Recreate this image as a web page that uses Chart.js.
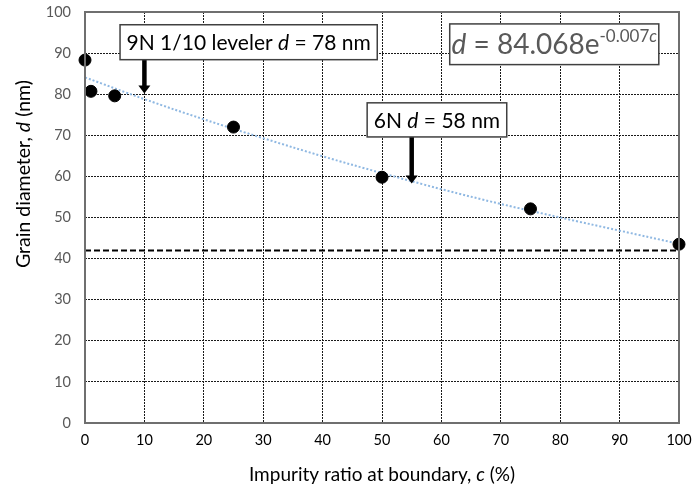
<!DOCTYPE html>
<html>
<head>
<meta charset="utf-8">
<script src="https://cdn.jsdelivr.net/npm/chart.js@4"></script>
<style>
  html, body { margin: 0; padding: 0; background: #fff; }
  #wrap { width: 695px; height: 495px; }
</style>
</head>
<body>
<div id="wrap"><canvas id="grainChart" width="695" height="495"></canvas></div>
<script>
// measured points: impurity ratio c (%) vs grain diameter d (nm)
const impurity = [0, 1, 5, 25, 50, 75, 100];
const diameter = [88.3, 80.7, 79.6, 72.0, 59.8, 52.1, 43.5];

// exponential trendline, every 10 %
const trendC = [0, 10, 20, 30, 40, 50, 60, 70, 80, 90, 100];
const trendD = [84.1, 78.8, 73.9, 69.3, 64.9, 60.8, 56.9, 53.3, 50.0, 46.8, 43.6];

// horizontal reference line
const refC = [0, 100];
const refD = [42, 42];

const xTicks = [0, 10, 20, 30, 40, 50, 60, 70, 80, 90, 100];
const yTicks = [0, 10, 20, 30, 40, 50, 60, 70, 80, 90, 100];

const FONT = 'Lato, "Open Sans", sans-serif';

// annotation boxes in data units, and the arrows under them
const boxes = [
  { x0: 5.9, x1: 49.2, y0: 88.4, y1: 96.9, size: 21, color: '#000',
    parts: [{ t: '9N 1/10 leveler ' }, { t: 'd', i: true }, { t: ' = 78 nm' }] },
  { x0: 47.5, x1: 71.0, y0: 69.6, y1: 77.9, size: 21, color: '#000',
    parts: [{ t: '6N ' }, { t: 'd', i: true }, { t: ' = 58 nm' }] },
  { x0: 61.4, x1: 96.6, y0: 87.2, y1: 97.1, size: 28, color: '#595959',
    parts: [{ t: 'd', i: true }, { t: ' = 84.068e' }, { t: '-0.007', sup: true }, { t: 'c', i: true, sup: true }] }
];
const arrows = [
  { x: 10, from: 88.4, to: 80.2 },
  { x: 55, from: 69.6, to: 58.3 }
];

function fontFor(p, size) {
  const s = p.sup ? Math.round(size * 0.62) : size;
  return (p.i ? 'italic ' : '') + s + 'px ' + FONT;
}

function drawParts(ctx, parts, cx, cy, size, color) {
  let total = 0;
  parts.forEach(p => { ctx.font = fontFor(p, size); total += ctx.measureText(p.t).width; });
  let x = cx - total / 2;
  ctx.fillStyle = color;
  ctx.textBaseline = 'middle';
  ctx.textAlign = 'left';
  parts.forEach(p => {
    ctx.font = fontFor(p, size);
    ctx.fillText(p.t, x, p.sup ? cy - size * 0.32 : cy);
    x += ctx.measureText(p.t).width;
  });
}

const decorations = {
  id: 'decorations',
  afterDatasetsDraw(chart) {
    const { ctx, chartArea: a, scales: { x, y } } = chart;
    ctx.save();
    // plot frame
    ctx.strokeStyle = '#6f6f6f';
    ctx.lineWidth = 2;
    ctx.strokeRect(a.left, a.top, a.right - a.left, a.bottom - a.top);

    // arrows
    arrows.forEach(ar => {
      const px = x.getPixelForValue(ar.x);
      const y0 = y.getPixelForValue(ar.from);
      const y1 = y.getPixelForValue(ar.to);
      ctx.strokeStyle = '#000';
      ctx.lineWidth = 4.5;
      ctx.beginPath();
      ctx.moveTo(px, y0);
      ctx.lineTo(px, y1 - 7);
      ctx.stroke();
      ctx.fillStyle = '#000';
      ctx.beginPath();
      ctx.moveTo(px - 6, y1 - 8);
      ctx.lineTo(px + 6, y1 - 8);
      ctx.lineTo(px, y1);
      ctx.closePath();
      ctx.fill();
    });

    // text boxes
    boxes.forEach(b => {
      const l = x.getPixelForValue(b.x0), r = x.getPixelForValue(b.x1);
      const t = y.getPixelForValue(b.y1), btm = y.getPixelForValue(b.y0);
      ctx.fillStyle = '#fff';
      ctx.fillRect(l, t, r - l, btm - t);
      ctx.strokeStyle = '#404040';
      ctx.lineWidth = 1.5;
      ctx.strokeRect(l, t, r - l, btm - t);
      drawParts(ctx, b.parts, (l + r) / 2, (t + btm) / 2 + 1, b.size, b.color);
    });

    // axis titles with italic symbols
    const midX = (a.left + a.right) / 2;
    drawParts(ctx, [{ t: 'Impurity ratio at boundary, ' }, { t: 'c', i: true }, { t: ' (%)' }],
      midX, 475, 19, '#000');
    ctx.translate(24, 174);
    ctx.rotate(-Math.PI / 2);
    drawParts(ctx, [{ t: 'Grain diameter, ' }, { t: 'd', i: true }, { t: ' (nm)' }],
      0, 0, 19.5, '#000');
    ctx.restore();
  }
};

const ctx = document.getElementById('grainChart').getContext('2d');

new Chart(ctx, {
  type: 'scatter',
  data: {
    datasets: [
      {
        label: 'reference',
        data: refC.map((c, i) => ({ x: c, y: refD[i] })),
        showLine: true,
        borderColor: '#000',
        borderWidth: 2,
        borderDash: [6, 3],
        pointRadius: 0
      },
      {
        label: 'measured',
        data: impurity.map((c, i) => ({ x: c, y: diameter[i] })),
        backgroundColor: '#000',
        borderColor: '#000',
        pointRadius: 6,
        pointHoverRadius: 6,
        clip: false
      },
      {
        label: 'trend',
        data: trendC.map((c, i) => ({ x: c, y: trendD[i] })),
        showLine: true,
        borderColor: '#8fb8e2',
        borderWidth: 2,
        borderDash: [2, 2],
        pointRadius: 0,
        tension: 0.4
      }
    ]
  },
  options: {
    responsive: false,
    animation: false,
    layout: { padding: { top: 12, right: 16, left: 0, bottom: 0 } },
    plugins: {
      legend: { display: false },
      tooltip: { enabled: false }
    },
    scales: {
      x: {
        type: 'linear',
        min: 0,
        max: 100,
        afterBuildTicks: axis => { axis.ticks = xTicks.map(v => ({ value: v })); },
        afterFit: axis => {
          axis.height = 72;
          axis.paddingLeft = 0;
          axis.paddingRight = 0;
        },
        grid: { color: '#1a1a1a', lineWidth: 1, drawTicks: false },
        border: { display: false, dash: [2, 1] },
        ticks: { color: '#000', padding: 9, font: { family: FONT, size: 14.5 } }
      },
      y: {
        min: 0,
        max: 100,
        afterBuildTicks: axis => { axis.ticks = yTicks.map(v => ({ value: v })); },
        afterFit: axis => {
          axis.width = 85;
          axis.paddingTop = 0;
          axis.paddingBottom = 0;
        },
        grid: { color: '#1a1a1a', lineWidth: 1, drawTicks: false },
        border: { display: false, dash: [2, 1] },
        ticks: { color: '#595959', padding: 14, font: { family: FONT, size: 14.5 } }
      }
    }
  },
  plugins: [decorations]
});
</script>
</body>
</html>
